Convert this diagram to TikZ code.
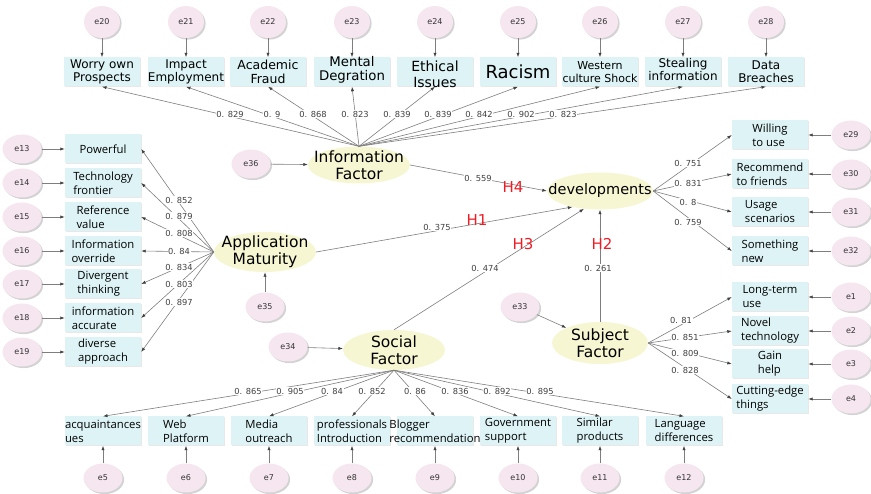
\documentclass[tikz,border=0pt]{standalone}
\usepackage{fontspec}
\setmainfont{DejaVu Sans}
\newfontfamily\osans{Open Sans}
\usetikzlibrary{arrows.meta,shapes.geometric,shadows}
\definecolor{epink}{HTML}{F6E6F0}
\definecolor{icyan}{HTML}{DDF3F5}
\definecolor{lyel}{HTML}{F6F6D2}
\definecolor{lgrey}{HTML}{7E7E7E}
\definecolor{hred}{HTML}{EE1C25}
\begin{document}
\begin{tikzpicture}[x=1pt,y=-1pt,
  errn/.style={ellipse, minimum width=39pt, minimum height=29pt, inner sep=0pt, fill=epink,
    font=\fontsize{8}{9}\selectfont, text=black!80,
    drop shadow={shadow xshift=1.6pt, shadow yshift=-1.6pt, opacity=0.35}},
  errtop/.style={errn, minimum width=36pt, minimum height=32pt},
  indn/.style={rectangle, minimum width=76pt, minimum height=29pt, inner sep=0pt, fill=icyan,
    drop shadow={shadow xshift=1pt, shadow yshift=-1pt, opacity=0.18}},
  latn/.style={ellipse, inner sep=0pt, fill=lyel},
  pth/.style={draw=lgrey, line width=0.6pt, -{Latex[length=4.5pt,width=3.2pt,color=black!75]}},
  coef/.style={font=\fontsize{8.3}{9}\selectfont, text=black!75, fill=white, inner sep=0.5pt},
  hyp/.style={text=hred, font=\fontsize{15}{15}\selectfont},
  toptxt/.style={align=center, font=\fontsize{12}{13}\selectfont},
  sidetxt/.style={align=left, font=\osans\fontsize{11.3}{14}\selectfont},
  lattxt/.style={align=center, font=\fontsize{15.5}{17}\selectfont},
]
\useasboundingbox (0,0) rectangle (871,494);

% ---------- latent variables ----------
\node[latn, minimum width=102pt, minimum height=37pt, label={[lattxt]center:{Information\\Factor}}] (IF) at (359,165) {};
\node[latn, minimum width=102pt, minimum height=40pt, label={[lattxt]center:{Application\\Maturity}}] (AM) at (265,252) {};
\node[latn, minimum width=106pt, minimum height=37pt, label={[lattxt,font=\fontsize{14.5}{17}\selectfont]center:{developments}}] (DV) at (600,191) {};
\node[latn, minimum width=102pt, minimum height=40pt, label={[lattxt]center:{Social\\Factor}}] (SF) at (394,350) {};
\node[latn, minimum width=96pt, minimum height=42pt, label={[lattxt]center:{Subject\\Factor}}] (SB) at (600,343) {};

% ---------- top indicators ----------
\node[indn, label={[toptxt]center:{Worry own\\Prospects}}] (t1) at (102,72) {};
\node[indn, label={[toptxt]center:{Impact\\Employment}}] (t2) at (186,72) {};
\node[indn, label={[toptxt,font=\fontsize{12.5}{14}\selectfont]center:{Academic\\Fraud}}] (t3) at (268,72) {};
\node[indn, label={[toptxt,font=\fontsize{13.3}{14.5}\selectfont,yshift=2pt]center:{Mental\\Degration}}] (t4) at (352,72) {};
\node[indn, label={[toptxt,font=\fontsize{14}{16}\selectfont,yshift=-2pt]center:{Ethical\\Issues}}] (t5) at (435,72) {};
\node[indn, label={[toptxt,font=\fontsize{18}{18}\selectfont]center:{Racism}}] (t6) at (518,72) {};
\node[indn, label={[toptxt,font=\fontsize{11}{13}\selectfont]center:{Western\\culture Shock}}] (t7) at (600,72) {};
\node[indn, label={[toptxt,yshift=2pt]center:{Stealing\\information}}] (t8) at (683,72) {};
\node[indn, label={[toptxt]center:{Data\\Breaches}}] (t9) at (766,72) {};

\node[errtop] (e20) at (102,22) {e20};
\node[errtop] (e21) at (186,22) {e21};
\node[errtop] (e22) at (268,22) {e22};
\node[errtop] (e23) at (352,22) {e23};
\node[errtop] (e24) at (435,22) {e24};
\node[errtop] (e25) at (518,22) {e25};
\node[errtop] (e26) at (600,22) {e26};
\node[errtop] (e27) at (683,22) {e27};
\node[errtop] (e28) at (766,22) {e28};

% ---------- left indicators ----------
\node[indn, label={[sidetxt]center:{Powerful}}] (l1) at (103,149) {};
\node[indn, label={[sidetxt]center:{Technology\\frontier}}] (l2) at (103,183) {};
\node[indn, label={[sidetxt]center:{Reference\\value}}] (l3) at (103,217) {};
\node[indn, label={[sidetxt]center:{Information\\override}}] (l4) at (103,251) {};
\node[indn, label={[sidetxt]center:{Divergent\\thinking}}] (l5) at (103,284) {};
\node[indn, label={[sidetxt]center:{information\\accurate}}] (l6) at (103,318) {};
\node[indn, label={[sidetxt]center:{diverse\\approach}}] (l7) at (103,352) {};

\node[errn] (e13) at (22,149) {e13};
\node[errn] (e14) at (22,183) {e14};
\node[errn] (e15) at (22,217) {e15};
\node[errn] (e16) at (22,251) {e16};
\node[errn] (e17) at (22,284) {e17};
\node[errn] (e18) at (22,318) {e18};
\node[errn] (e19) at (22,352) {e19};

% ---------- right indicators ----------
\node[indn, label={[sidetxt]center:{Willing\\to use}}] (r1) at (770,135) {};
\node[indn, label={[sidetxt]center:{Recommend\\to friends}}] (r2) at (770,174) {};
\node[indn, label={[sidetxt]center:{Usage\\scenarios}}] (r3) at (770,212) {};
\node[indn, label={[sidetxt]center:{Something\\new}}] (r4) at (770,251) {};
\node[indn, label={[sidetxt]center:{Long-term\\use}}] (r5) at (770,297) {};
\node[indn, label={[sidetxt]center:{Novel\\technology}}] (r6) at (770,331) {};
\node[indn, label={[sidetxt]center:{Gain\\help}}] (r7) at (770,364) {};
\node[indn, label={[sidetxt]center:{Cutting-edge\\things}}] (r8) at (770,399) {};

\node[errn] (e29) at (851,135) {e29};
\node[errn] (e30) at (851,174) {e30};
\node[errn] (e31) at (851,212) {e31};
\node[errn] (e32) at (851,251) {e32};
\node[errn] (e1) at (851,297) {e1};
\node[errn] (e2) at (851,331) {e2};
\node[errn] (e3) at (851,364) {e3};
\node[errn] (e4) at (851,399) {e4};

% ---------- bottom indicators ----------
\node[indn, label={[sidetxt]center:{acquaintances\\ues}}] (b1) at (103,431) {};
\node[indn, label={[sidetxt]center:{Web\\Platform}}] (b2) at (186,431) {};
\node[indn, label={[sidetxt]center:{Media\\outreach}}] (b3) at (269,431) {};
\node[indn, label={[sidetxt]center:{professionals\\Introduction}}] (b4) at (352,431) {};
\node[indn, label={[sidetxt]center:{Blogger\\recommendation}}] (b5) at (435,431) {};
\node[indn, label={[sidetxt]center:{Government\\support}}] (b6) at (518,431) {};
\node[indn, label={[sidetxt]center:{Similar\\products}}] (b7) at (600,431) {};
\node[indn, label={[sidetxt]center:{Language\\differences}}] (b8) at (684,431) {};

\node[errn] (e5) at (103,478) {e5};
\node[errn] (e6) at (186,478) {e6};
\node[errn] (e7) at (269,478) {e7};
\node[errn] (e8) at (352,478) {e8};
\node[errn] (e9) at (435,478) {e9};
\node[errn] (e10) at (518,478) {e10};
\node[errn] (e11) at (600,478) {e11};
\node[errn] (e12) at (684,478) {e12};

% ---------- structural errors ----------
\node[errn] (e36) at (251,164) {e36};
\node[errn] (e35) at (265,307) {e35};
\node[errn] (e34) at (288,347) {e34};
\node[errn] (e33) at (520,307) {e33};

% ---------- connectors ----------
\foreach \i/\e in {1/20,2/21,3/22,4/23,5/24,6/25,7/26,8/27,9/28} {
  \draw[pth] (e\e) -- (t\i);
  \draw[pth] (IF.north) -- (t\i.south);
}
\foreach \i/\e in {1/13,2/14,3/15,4/16,5/17,6/18,7/19} {
  \draw[pth] (e\e) -- (l\i);
  \draw[pth] (AM.west) -- (l\i.east);
}
\foreach \i/\e in {1/29,2/30,3/31,4/32} {
  \draw[pth] (e\e) -- (r\i);
  \draw[pth] (DV.east) -- (r\i.west);
}
\foreach \i/\e in {5/1,6/2,7/3,8/4} {
  \draw[pth] (e\e) -- (r\i);
  \draw[pth] (SB.east) -- (r\i.west);
}
\foreach \i/\e in {1/5,2/6,3/7,4/8,5/9,6/10,7/11,8/12} {
  \draw[pth] (e\e) -- (b\i);
  \draw[pth] (SF.south) -- (b\i.north);
}
\draw[pth] (e36) -- (IF);
\draw[pth] (e35) -- (AM);
\draw[pth] (e34) -- (SF);
\draw[pth] (e33) -- (SB);
\draw[pth] (IF.east) -- (DV.west);
\draw[pth] (AM.east) -- (DV.210);
\draw[pth] (SF.north) -- (DV.228);
\draw[pth] (SB.north) -- (DV.south);

% ---------- coefficients ----------
\foreach \x/\t [count=\k] in {230/0. 829,272/0. 9,313/0. 868,355/0. 823,397/0. 839,438/0. 839,479/0. 842,521/0. 902,563/0. 823}
  \node[coef] (ct\k) at (\x,114) {\t};
\foreach \y/\t [count=\k] in {200/0. 852,216/0. 879,233/0. 808,251/0. 84,267/0. 834,284/0. 803,302/0. 897}
  \node[coef] (cl\k) at (179,\y) {\t};
\foreach \x/\y/\t [count=\k] in {688/163/0. 751,688/183/0. 831,688/202/0. 8,688/222/0. 759,681/320/0. 81,685/337/0. 851,685/353/0. 809,685/370/0. 828}
  \node[coef] (cr\k) at (\x,\y) {\t};
\foreach \x/\t [count=\k] in {248/0. 865,290/0. 905,332/0. 84,372/0. 852,415/0. 86,455/0. 836,497/0. 892,540/0. 895}
  \node[coef] (cb\k) at (\x,391) {\t};
\node[coef] (c559) at (478,178) {0. 559};
\node[coef] (c375) at (437,227) {0. 375};
\node[coef] (c474) at (485,268) {0. 474};
\node[coef] (c261) at (598,268) {0. 261};

% ---------- hypotheses ----------
\node[hyp] (H4) at (513,187) {H4};
\node[hyp] (H1) at (477,220) {H1};
\node[hyp] (H3) at (523,244) {H3};
\node[hyp] (H2) at (602,244) {H2};
\end{tikzpicture}
\end{document}
